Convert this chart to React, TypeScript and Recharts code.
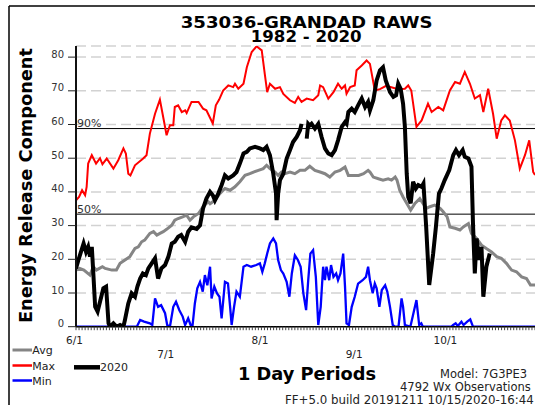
import React from 'react';
import { LineChart, Line, XAxis, YAxis, CartesianGrid, ReferenceLine } from 'recharts';

// day 0 = 6/1
const monthDays = [0, 30, 61, 92, 122];
const monthLabels = ['6/1', '7/1', '8/1', '9/1', '10/1'];
const yTicks = [0, 10, 20, 30, 40, 50, 60, 70, 80];
const pct90 = 58.8;
const pct50 = 33.4;

const maxPts: [number, number][] = [
  [0, 37.5], [1, 38.5], [2, 40.5], [3, 39], [3.5, 41.5], [4, 48.4], [5.2, 50.9], [6.6, 48.4], [7.9, 50],
  [8.7, 48.2], [10.1, 49.9], [12.3, 46.9], [13.9, 49.4], [15.6, 52.9], [16.4, 51.4], [17.2, 45.4], [17.9, 44.9],
  [19.4, 47.9], [22.1, 49.9], [23.2, 50.9], [24.3, 57.3], [26, 63.2], [27.6, 67.4], [28.9, 61.2], [29.8, 56.8],
  [30.9, 59.8], [32, 59.8], [32.5, 65.2], [33.6, 65.7], [34.8, 63.7], [35.9, 64.2], [36.4, 63.4], [38, 66.7],
  [40.3, 66.7], [41.8, 64.7], [42.9, 64.2], [45, 60.3], [46, 65.7], [47.1, 67.4], [48.4, 70.1], [50.1, 71.6],
  [51.7, 71.1], [52.3, 72.1], [53.4, 70.6], [55.1, 72.1], [56.2, 77], [57.8, 81.5], [59.4, 83.2], [61.1, 82],
  [62.1, 75], [62.9, 69.6], [63.8, 72.1], [65.5, 70.6], [67.1, 71.1], [68.2, 69.1], [70.4, 67.2], [72, 66.4],
  [73.1, 68.2], [74.2, 66.7], [75.9, 67.7], [78, 67.2], [79.7, 68.7], [80.3, 71.6], [81.3, 71.1], [83, 67.7],
  [84.7, 69.6], [86.2, 72.1], [87.4, 70.6], [88.5, 71.6], [89, 69.1], [90.2, 71.1], [91.7, 71.6], [92.3, 76.1],
  [94, 77.5], [95.6, 79], [96.7, 78], [98.3, 70.1], [100, 70.5], [102, 71.5], [104, 71], [106, 70.5],
  [108.2, 70.6], [109.3, 71.6], [110.3, 70.1], [112, 59.3], [113.7, 61.2], [115.8, 66.2], [117, 63.7],
  [119.2, 65.2], [120.8, 64.2], [123, 70.1], [124.7, 72.6], [126.3, 72.1], [127.9, 75.6], [129.6, 72.1],
  [131.2, 67.7], [132.9, 68.7], [134, 63.7], [135.6, 70.6], [137.2, 63.2], [138.4, 55.8], [139.9, 61.2],
  [141.1, 62.7], [142.7, 61.2], [144.4, 55.3], [146, 46.9], [147.7, 50.9], [149.1, 55.3], [150.4, 45.9], [151, 45],
];

const avgPts: [number, number][] = [
  [0, 16.8], [1.2, 17.3], [2.6, 16.8], [4.6, 15.3], [5.7, 17.8], [6.7, 16.8], [7.7, 17.3], [8.7, 17.8],
  [9.6, 17.3], [11.8, 16.8], [13.3, 16.8], [14.5, 18.8], [16.1, 19.8], [17.7, 20.8], [19.4, 23.2], [20.5, 23.7],
  [21.6, 25.2], [22.6, 25.7], [24.3, 27.7], [25.5, 28.2], [26.6, 27.2], [27.6, 27.7], [28.7, 28.2], [29.8, 28.9],
  [31.5, 30.1], [32.5, 31.6], [33.6, 32.1], [35.1, 32.6], [36.4, 33.1], [37.5, 31.6], [38.6, 32.6], [40.3, 33.6],
  [41.8, 35.6], [43.5, 37.1], [44.1, 36.5], [45.7, 37.5], [47.3, 39.5], [49, 41], [50.7, 40.5], [52.3, 41.5],
  [53.9, 43], [55.6, 44.9], [57.2, 45.4], [58.4, 45.9], [60, 46.4], [61.6, 46.9], [62.7, 47.9], [63.8, 46.9],
  [65.5, 45.9], [66.5, 44.9], [67.6, 45.9], [68.7, 45.4], [70.4, 45.9], [72, 45.4], [73.7, 46.4], [75.3, 46.4],
  [76.9, 47.6], [78.6, 46.4], [80.3, 45.9], [81.9, 45.4], [83.5, 44.4], [85.2, 45.9], [86.9, 46.4], [88.5, 47.4],
  [89.6, 44.9], [91.3, 44.9], [93, 44.9], [94.6, 45.4], [96.1, 46.4], [96.7, 45.9], [97.8, 44.4], [99.5, 43.9],
  [101, 43.5], [102.7, 43.9], [103.8, 43.5], [105, 44.4], [105.6, 43.5], [106.5, 40.5], [107.6, 38.5],
  [108.8, 36.6], [110.1, 34.6], [111.5, 36.6], [113.1, 38], [114.2, 36.5], [115.3, 35.1], [116.4, 35.6],
  [118, 36.1], [119.8, 35.1], [120.8, 34.1], [122.1, 32.6], [123, 29.6], [124.7, 29.2], [126.3, 28.7],
  [127.4, 29.6], [129.1, 30.6], [130.1, 27.7], [131.8, 26.2], [133.4, 24.2], [135, 23.2], [136.7, 22.2],
  [138.4, 20.8], [139.9, 20.3], [141.6, 18.8], [143.3, 16.8], [144.9, 16.3], [146.6, 14.8], [148.2, 14.3],
  [149.5, 12.4], [151, 12.4],
];

const minPts: [number, number][] = [
  [0, 0], [20, 0], [21.1, 2], [22.4, 1.5], [24.3, 1], [25.1, 0.5], [26, 8.4], [27, 5.9], [28, 6.4], [29.3, 4],
  [30, 0.5], [30.9, 0], [32, 5.9], [32.9, 7.4], [34, 4.9], [35.1, 3], [35.9, 0.5], [36.9, 2.5], [37.7, 0.5],
  [38.3, 0], [39.1, 6.9], [39.9, 11.4], [40.8, 13.3], [41.7, 10.4], [42.4, 15.3], [43.2, 12.3], [44.1, 17.8],
  [44.6, 8.4], [45.5, 11.9], [46.4, 9.9], [47.2, 8.9], [47.9, 2.5], [49, 13.3], [50, 12.8], [50.7, 5.9],
  [51.2, 0.5], [52, 5.9], [52.8, 10.4], [53.9, 8.9], [55.1, 17.8], [56.2, 18.3], [57.6, 17.8], [59.3, 18.3],
  [60.5, 18.8], [61.3, 16.3], [62.1, 18.8], [62.9, 21.7], [63.8, 24.7], [64.9, 26.2], [65.8, 24.7], [66.5, 19.8],
  [67.4, 16.8], [68.2, 15.8], [69.3, 13.3], [70.2, 8.9], [71, 15.8], [72, 21.2], [73, 19.8], [73.9, 17.8],
  [74.8, 9.9], [75.7, 4.9], [76.4, 13.8], [77.1, 21.7], [78, 22.7], [78.9, 14.8], [79.7, 0.5], [80.5, 5.9],
  [81.3, 17.8], [81.9, 13.8], [82.4, 17.8], [83.3, 13.8], [83.9, 18.3], [84.7, 14.8], [85.6, 15.8], [86.2, 13.8],
  [87, 15.8], [87.9, 21.7], [88.5, 11.9], [89, 1], [89.8, 0.5], [90.7, 5.9], [91.7, 8.9], [92.8, 12.8],
  [94.3, 13.8], [95.4, 14.8], [96.1, 17.8], [96.7, 13.8], [97.6, 9.9], [98.3, 12.8], [98.9, 11.4], [99.8, 5.9],
  [100.6, 10.9], [101.7, 12.3], [102.4, 10.4], [103.3, 5.9], [104.2, 0.5], [104.9, 0], [106.1, 0], [107.1, 8.4],
  [107.6, 5.9], [108.2, 0.5], [110, 0], [112, 7.9], [112.9, 0.5], [113.6, 1], [114.1, 0], [123.5, 0],
  [124.1, 0.5], [124.9, 1], [125.6, 0.2], [126.8, 1.5], [127.5, 0.5], [128.7, 1.5], [129.7, 2.2], [130.6, 0],
  [151, 0],
];

const yr2020Pts: [number, number | null][] = [
  [0, 17.3], [0.8, 19.8], [2.5, 24.7], [3.3, 22.2], [4, 23.7], [4.6, 20.8], [5.2, 23.7], [5.7, 15.8], [6.3, 5.9],
  [7.1, 4.5], [7.9, 7.4], [9, 11.4], [9.9, 11.9], [10.7, 1], [11.2, 0], [12.3, 1], [13.3, 0], [14.5, 0.5],
  [15.6, 0], [16.1, 2], [17.2, 6.9], [18.3, 9.9], [19.4, 8.9], [20.2, 11.9], [21.1, 14.3], [22, 15.8],
  [23, 15.3], [23.8, 17.3], [24.9, 18.8], [26, 20.3], [27, 14.3], [28.1, 17.3], [29.3, 18.3], [30.4, 20.8],
  [31.5, 24.7], [32.5, 25.2], [33.6, 26.7], [34.6, 27.2], [35.9, 25.2], [36.9, 28.2], [38, 29.5], [39.7, 29],
  [40.8, 30.1], [41.8, 35.1], [42.9, 38], [44.1, 40], [45, 39], [45.7, 37.5], [46.8, 39.5], [47.9, 42],
  [49, 44.9], [50.1, 44], [51.7, 44.9], [52.8, 45.9], [53.9, 48.4], [55.1, 51.4], [56.2, 51.9], [57.2, 52.9],
  [58.9, 53.4], [60.5, 52.9], [61.6, 52.4], [62.7, 53.4], [63.8, 50.9], [64.9, 45.4], [65.8, 39.5], [66, 31.6],
  [66.5, 39.5], [67.1, 43.5], [68.2, 45.4], [69.3, 49.9], [70.4, 52.4], [71.4, 54.8], [72.6, 56.3], [73.7, 58.3],
  [74.2, 60.2], [75, null], [75.9, 55.8], [76.4, 60.2], [76.9, 59.7], [77.5, 60.2], [78.6, 58.8], [79.7, 60.2],
  [80.8, 56.3], [81.9, 52.9], [83, 51.4], [84.1, 50.9], [85.2, 52.4], [86.2, 55.3], [87.4, 59.3], [88.5, 60.7],
  [89, 60.2], [89.6, 63.7], [90.7, 64.7], [91.7, 63.7], [92.8, 65.7], [94, 67.7], [95.1, 65.2], [96.1, 66.7],
  [96.7, 64.2], [97.8, 67.2], [98.9, 73.1], [100, 76.1], [101, 77], [101.9, 73.1], [103.3, 69.6], [104.4, 68.2],
  [105.3, 68.7], [106, 72.1], [106.8, 70.6], [107.6, 66.2], [108.2, 59.3], [108.8, 45.4], [109.3, 38.5],
  [110.1, 36.6], [110.9, 43], [111.8, 41], [112.6, 42], [113.7, 41.5], [114.3, 42.5], [115.2, 29.6],
  [116.2, 12.4], [117.5, 21.7], [118.4, 29.6], [119.4, 39.5], [120.2, 41], [121.3, 43.5], [122.8, 46.5],
  [124.1, 50.9], [125, 52.4], [126, 50.9], [127.2, 52.4], [127.9, 50.4], [129.1, 49.9], [130.1, 47.5],
  [130.6, 30.6], [131.2, 15.8], [131.8, 26.2], [132.6, 19.8], [133.4, 23.7], [134, 8.9], [135, 17.8], [136.1, 21.7],
];

const dayTicks = Array.from({ length: 152 }, (_, i) => i);
const toRows = (pts: [number, number | null][]) => pts.map(([d, v]) => ({ d, v }));

const font = 'DejaVu Sans, Verdana, sans-serif';

const XTick = (props: any) => {
  const { x, y, payload } = props;
  const i = monthDays.indexOf(payload.value);
  if (i < 0) return <g />;
  return (
    <text x={x - 1.5} y={y} dy={i % 2 === 0 ? 12 : 25.5} textAnchor="middle" fontSize={10.5} fill="#222" fontFamily={font}>
      {monthLabels[i]}
    </text>
  );
};

const YTick = (props: any) => {
  const { x, y, payload } = props;
  return (
    <text x={x} y={y} dy={0.5} textAnchor="end" fontSize={10} fill="#333" fontFamily={font}>
      {payload.value}
    </text>
  );
};

const PctLabel = (props: any) => {
  const { viewBox, value } = props;
  if (!viewBox) return null;
  return (
    <text x={viewBox.x + 1} y={viewBox.y - 1.5} fontSize={11} fill="#333" fontFamily={font}>
      {value}
    </text>
  );
};

const legendRows = [
  { name: 'Avg', color: '#858585', width: 3, y: 350 },
  { name: 'Max', color: '#ff0000', width: 2.5, y: 365.5 },
  { name: 'Min', color: '#0000ff', width: 2.5, y: 380.5 },
];

export default function App() {
  return (
    <div style={{ position: 'absolute', left: 0, top: 0, width: 535, height: 405, overflow: 'hidden', background: '#fff' }}>
      <LineChart width={535} height={405} margin={{ top: 46, right: 0, bottom: 48.3, left: 36 }}>
        <CartesianGrid vertical={false} strokeDasharray="10 5" stroke="#d2d2d2" strokeWidth={1.5} />
        <XAxis
          dataKey="d"
          type="number"
          domain={[0, 151]}
          ticks={dayTicks}
          interval={0}
          allowDataOverflow
          height={30}
          tickSize={3.5}
          tickLine={{ stroke: '#444', strokeWidth: 1 }}
          axisLine={{ stroke: '#000', strokeWidth: 1.5 }}
          tick={<XTick />}
        />
        <YAxis
          type="number"
          domain={[0, 83.3]}
          ticks={yTicks}
          interval={0}
          allowDataOverflow
          width={40}
          tickSize={8}
          tickMargin={4}
          tickLine={{ stroke: '#222', strokeWidth: 1 }}
          axisLine={{ stroke: '#111', strokeWidth: 2 }}
          tick={<YTick />}
        />
        <ReferenceLine y={pct90} stroke="#000" strokeWidth={1} label={<PctLabel value="90%" />} />
        <ReferenceLine y={pct50} stroke="#000" strokeWidth={1} label={<PctLabel value="50%" />} />
        <Line data={toRows(maxPts)} dataKey="v" type="linear" stroke="#ff0000" strokeWidth={2} dot={false} isAnimationActive={false} />
        <Line data={toRows(avgPts)} dataKey="v" type="linear" stroke="#858585" strokeWidth={3} dot={false} isAnimationActive={false} />
        <Line data={toRows(minPts)} dataKey="v" type="linear" stroke="#0000ff" strokeWidth={2.3} dot={false} isAnimationActive={false} />
        <Line data={toRows(yr2020Pts)} dataKey="v" type="linear" stroke="#000" strokeWidth={4} dot={false} connectNulls={false} isAnimationActive={false} />
      </LineChart>
      <svg width={535} height={405} style={{ position: 'absolute', left: 0, top: 0, pointerEvents: 'none' }} fontFamily={font}>
        <line x1={9} y1={6} x2={535} y2={6} stroke="#000" strokeWidth={1.5} />
        <line x1={9} y1={6} x2={9} y2={405} stroke="#000" strokeWidth={1.5} />
        <text x={306.7} y={28.3} textAnchor="middle" fontWeight="bold" fontSize={16.5} textLength={252} lengthAdjust="spacingAndGlyphs">
          353036-GRANDAD RAWS
        </text>
        <text x={306.2} y={42.3} textAnchor="middle" fontWeight="bold" fontSize={16} textLength={111} lengthAdjust="spacingAndGlyphs">
          1982 - 2020
        </text>
        <text transform="translate(31.7,185.5) rotate(-90)" textAnchor="middle" fontWeight="bold" fontSize={17} textLength={275} lengthAdjust="spacingAndGlyphs">
          Energy Release Component
        </text>
        {legendRows.map((r) => (
          <g key={r.name}>
            <line x1={12.5} y1={r.y} x2={32} y2={r.y} stroke={r.color} strokeWidth={r.width} />
            <text x={32.3} y={r.y + 4} fontSize={11} fill="#222">{r.name}</text>
          </g>
        ))}
        <line x1={74} y1={367.3} x2={100} y2={367.3} stroke="#000" strokeWidth={4.5} />
        <text x={100} y={371.3} fontSize={11} fill="#222">2020</text>
        <text x={307} y={380} textAnchor="middle" fontWeight="bold" fontSize={17} textLength={138} lengthAdjust="spacingAndGlyphs">
          1 Day Periods
        </text>
        <text x={440} y={377.7} fontSize={11.5} fill="#222">Model: 7G3PE3</text>
        <text x={400} y={391} fontSize={11.5} fill="#222">4792 Wx Observations</text>
        <text x={285} y={404} fontSize={11.8} fill="#222">FF+5.0 build 20191211 10/15/2020-16:44</text>
      </svg>
    </div>
  );
}
